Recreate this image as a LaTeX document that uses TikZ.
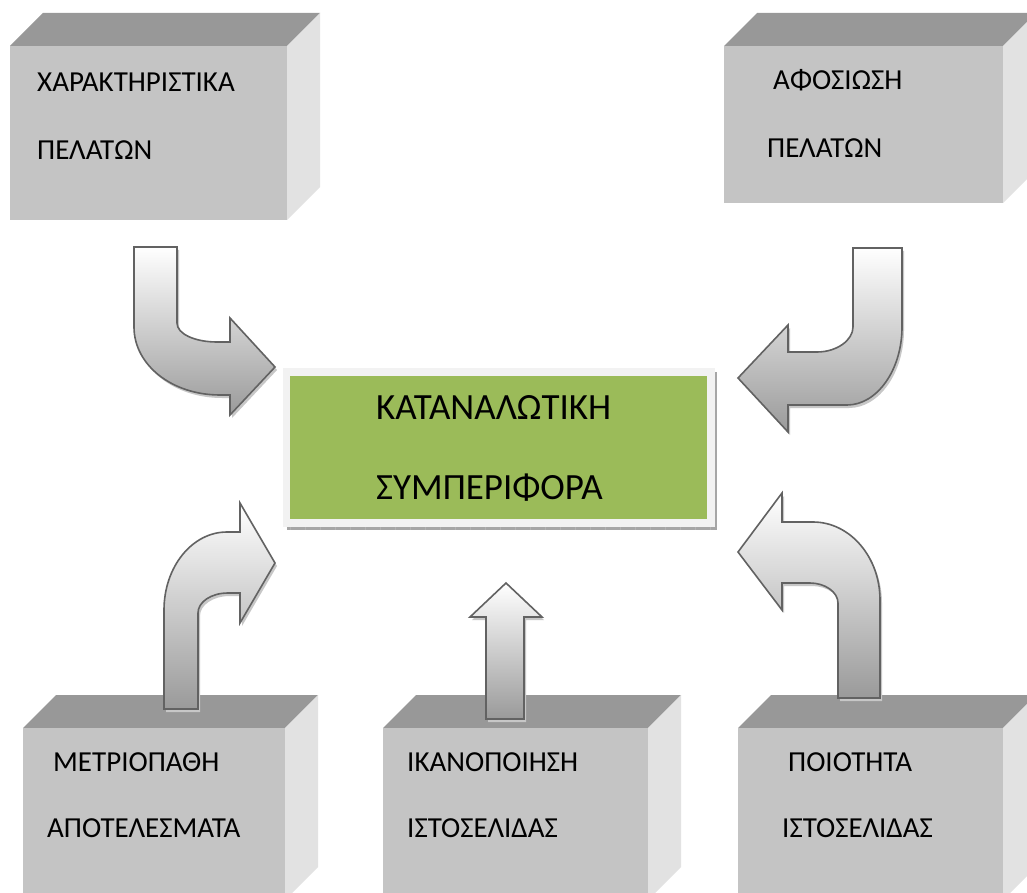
\documentclass[tikz,border=0pt]{standalone}
\usepackage{fontspec}
\setmainfont{Carlito}
\definecolor{facefront}{HTML}{C4C4C4}
\definecolor{facetop}{HTML}{989898}
\definecolor{faceside}{HTML}{E2E2E2}
\definecolor{leaf}{HTML}{9BBB59}
\definecolor{frame}{HTML}{F2F2F2}
\definecolor{arrowline}{HTML}{626262}
\definecolor{arrowdark}{HTML}{9A9A9A}
\tikzset{
  frontface/.style={fill=facefront},
  topface/.style={fill=facetop},
  sideface/.style={fill=faceside},
  lbl/.style={inner sep=0pt, anchor=west, font=\fontsize{29}{34}\selectfont},
  biglbl/.style={inner sep=0pt, anchor=west, font=\fontsize{37}{43}\selectfont},
  blockarrow/.style={draw=arrowline, line width=1.6pt, line join=miter,
    top color=white, bottom color=arrowdark},
  arrowshadow/.style={fill=black!22, shift={(2,3)}},
}
% a solid block: front face from (#1,#2) to (#3,#4), depth 33 up and to the right
\newcommand\solidblock[4]{%
  \path[topface]  (#1,#2) -- (#1+33,#2-33) -- (#3+33,#2-33) -- (#3,#2) -- cycle;
  \path[sideface] (#3,#2) -- (#3+33,#2-33) -- (#3+33,#4-33) -- (#3,#4) -- cycle;
  \path[frontface] (#1,#2) rectangle (#3,#4);
}
\begin{document}
\begin{tikzpicture}[x=1pt,y=-1pt]
\useasboundingbox (0,0) rectangle (1027,893);
\clip (0,0) rectangle (1027,893);
\fill[white] (0,0) rectangle (1027,893);

% the five source blocks
\solidblock{10}{46}{287}{220}
\solidblock{724}{46}{1003}{203}
\solidblock{23}{728}{285}{900}
\solidblock{383}{728}{648}{900}
\solidblock{738}{728}{1003}{900}

\node[lbl] (cust1) at (37,82)  {ΧΑΡΑΚΤΗΡΙΣΤΙΚΑ};
\node[lbl] (cust2) at (37,150) {ΠΕΛΑΤΩΝ};
\node[lbl] (loy1)  at (773,80)  {ΑΦΟΣΙΩΣΗ};
\node[lbl] (loy2)  at (767,148) {ΠΕΛΑΤΩΝ};
\node[lbl] (mod1)  at (53,762)  {ΜΕΤΡΙΟΠΑΘΗ};
\node[lbl] (mod2)  at (47,828)  {ΑΠΟΤΕΛΕΣΜΑΤΑ};
\node[lbl] (sat1)  at (407,762) {ΙΚΑΝΟΠΟΙΗΣΗ};
\node[lbl] (sat2)  at (407,828) {ΙΣΤΟΣΕΛΙΔΑΣ};
\node[lbl] (qual1) at (788,762) {ΠΟΙΟΤΗΤΑ};
\node[lbl] (qual2) at (782,828) {ΙΣΤΟΣΕΛΙΔΑΣ};

% central block with its frame and shadow
\fill[black!35] (287,372) rectangle (717,530);
\fill[frame] (283,368) rectangle (715,527);
\foreach \t in {290,305,...,710} \draw[black!30, line width=0.6pt] (\t,527) -- (\t,530);
\node[fill=leaf, inner sep=0pt, minimum width=417pt, minimum height=143pt] (behav) at (498.5,447.5) {};
\node[biglbl] (behav1) at (376,408) {ΚΑΤΑΝΑΛΩΤΙΚΗ};
\node[biglbl] (behav2) at (376,488) {ΣΥΜΠΕΡΙΦΟΡΑ};

% block arrows pointing at the central block
\def\arrowA{(134,247) -- (177,247) -- (177,323) .. controls (177,334) and (195,342) .. (217,342) -- (230,342) -- (230,318) -- (275,367) -- (230,415) -- (230,395) -- (220,395) .. controls (172,395) and (134,365) .. (134,327) -- cycle}
\def\arrowB{(853,248) -- (902,248) -- (902,327) .. controls (902,370) and (877,405) .. (847,405) -- (788,405) -- (788,432) -- (738,378) -- (788,325) -- (788,352) -- (817,352) .. controls (837,352) and (853,340) .. (853,327) -- cycle}
\def\arrowC{(164,709) -- (164,610) .. controls (164,567) and (192,532) .. (227,532) -- (240,532) -- (240,503) -- (275,563) -- (240,623) -- (240,593) -- (228,593) .. controls (211,593) and (198,602) .. (198,613) -- (198,709) -- cycle}
\def\arrowD{(486,719) -- (486,617) -- (470,617) -- (506,583) -- (542,617) -- (524,617) -- (524,719) -- cycle}
\def\arrowE{(838,698) -- (838,603) .. controls (838,592) and (825,583) .. (810,583) -- (782,583) -- (782,610) -- (738,552) -- (782,493) -- (782,522) -- (813,522) .. controls (850,522) and (880,557) .. (880,600) -- (880,698) -- cycle}

\foreach \p in {\arrowA,\arrowB,\arrowC,\arrowD,\arrowE}{
  \path[arrowshadow] \p;
  \path[blockarrow] \p;
}
\end{tikzpicture}
\end{document}
